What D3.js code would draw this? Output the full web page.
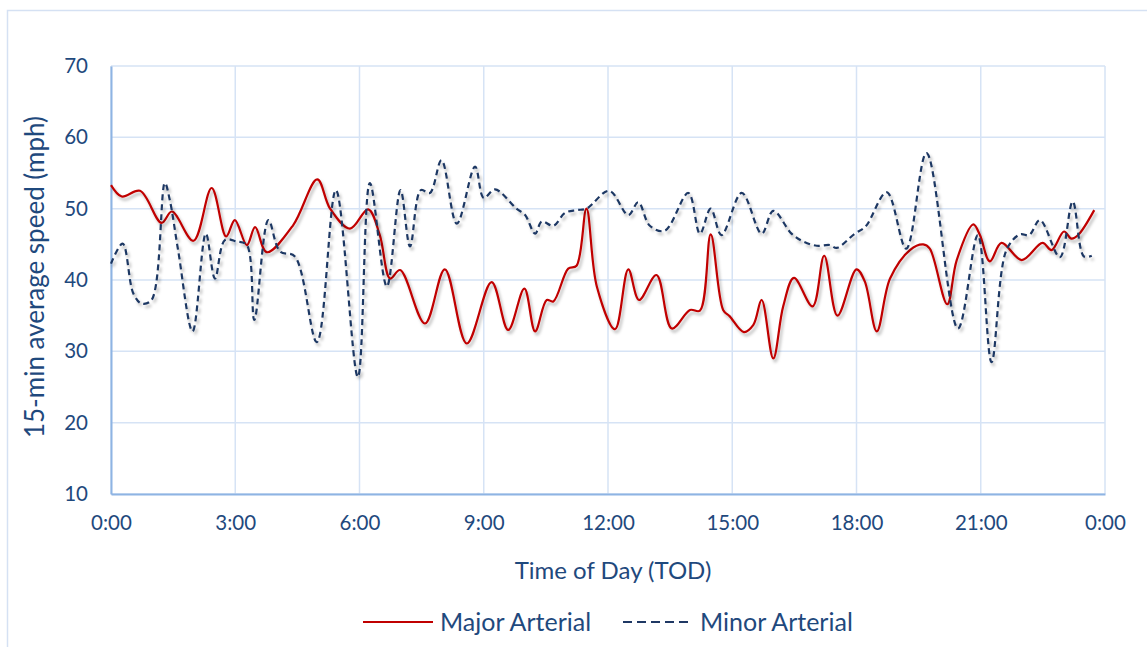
<!DOCTYPE html>
<html>
<head>
<meta charset="utf-8">
<script src="https://cdn.jsdelivr.net/npm/d3@7"></script>
<style>
  body { margin: 0; background: #fff; }
  svg { display: block; font-family: Lato, "Open Sans", sans-serif; }
</style>
</head>
<body>
<div id="chart"></div>
<script>
// time of day in hours, 15-min average speed in mph
const majorArterial = [
  [0, 53.3], [0.26, 51.7], [0.70, 52.5], [1.22, 48.0], [1.47, 49.6], [1.99, 45.5],
  [2.43, 52.9], [2.78, 46.1], [2.99, 48.4], [3.28, 44.9], [3.48, 47.4], [3.76, 43.9],
  [4.40, 47.7], [4.98, 54.1], [5.29, 50.0], [5.77, 47.2], [6.21, 49.9], [6.49, 46.3],
  [6.74, 40.2], [6.98, 41.4], [7.58, 33.9], [8.06, 41.5], [8.59, 31.1], [9.19, 39.7],
  [9.59, 33.0], [9.98, 38.8], [10.24, 32.8], [10.52, 37.2], [10.68, 37.0], [11.04, 41.6],
  [11.24, 42.0], [11.48, 50.0], [11.73, 39.1], [12.17, 33.1], [12.49, 41.5], [12.75, 37.2],
  [13.17, 40.7], [13.54, 33.2], [13.98, 35.8], [14.22, 35.7], [14.48, 46.4], [14.78, 35.8],
  [14.94, 34.9], [15.28, 32.7], [15.51, 33.7], [15.71, 37.2], [15.99, 29.0], [16.23, 36.3],
  [16.49, 40.3], [16.94, 36.3], [17.22, 43.4], [17.54, 35.0], [18.00, 41.5], [18.20, 39.8],
  [18.49, 32.8], [18.81, 40.2], [19.29, 44.2], [19.61, 45.0], [19.77, 44.4], [20.19, 36.6],
  [20.42, 42.8], [20.82, 47.8], [20.98, 46.3], [21.22, 42.6], [21.50, 45.2], [21.99, 42.8],
  [22.49, 45.2], [22.71, 44.2], [23.01, 46.8], [23.19, 45.8], [23.35, 46.3], [23.74, 49.8]
];

const minorArterial = [
  [0, 42.3], [0.28, 45.1], [0.54, 38.1], [0.74, 36.7], [0.98, 37.2], [1.30, 53.6],
  [1.42, 51.2], [1.62, 44.2], [1.97, 32.8], [2.29, 46.5], [2.51, 40.2], [2.75, 45.6],
  [3.03, 45.4], [3.28, 44.9], [3.46, 34.4], [3.80, 48.4], [4.08, 44.0], [4.44, 43.3],
  [4.97, 31.3], [5.43, 52.6], [5.96, 26.4], [6.25, 53.6], [6.66, 39.1], [6.99, 52.6],
  [7.22, 44.7], [7.48, 52.6], [7.70, 52.2], [7.98, 56.8], [8.35, 47.9], [8.79, 55.9],
  [9.00, 51.5], [9.27, 52.7], [9.79, 50.0], [10.00, 49.1], [10.24, 46.5], [10.40, 48.2],
  [10.68, 47.6], [10.96, 49.4], [11.24, 49.8], [11.48, 50.0], [12.03, 52.5], [12.49, 49.1],
  [12.73, 50.9], [13.01, 47.6], [13.37, 46.9], [13.94, 52.2], [14.22, 46.5], [14.48, 50.0],
  [14.74, 46.3], [15.23, 52.2], [15.71, 46.5], [15.99, 49.7], [16.43, 46.5], [16.71, 45.4],
  [17.04, 44.8], [17.36, 44.9], [17.52, 44.5], [17.96, 46.5], [18.22, 47.5], [18.73, 52.3],
  [19.20, 44.4], [19.69, 57.8], [20.45, 33.2], [20.93, 46.3], [21.26, 28.5], [21.62, 44.2],
  [21.95, 46.4], [22.17, 46.3], [22.43, 48.4], [22.91, 43.2], [23.22, 51.0], [23.49, 43.3],
  [23.68, 43.4]
];

const xTicks = [0, 3, 6, 9, 12, 15, 18, 21, 24];
const yTicks = [10, 20, 30, 40, 50, 60, 70];
const seriesNames = ["Major Arterial", "Minor Arterial"];

const width = 1147, height = 647;
const margin = { top: 66, right: 42, bottom: 153, left: 111 };
const textColor = "#1f497d";

const svg = d3.select("#chart").append("svg")
    .attr("width", width)
    .attr("height", height);

// soft shadow under the lines
const filter = svg.append("defs").append("filter")
    .attr("id", "shadow")
    .attr("x", "-5%").attr("y", "-10%")
    .attr("width", "110%").attr("height", "120%");
filter.append("feDropShadow")
    .attr("dx", 2).attr("dy", 3)
    .attr("stdDeviation", 1.8)
    .attr("flood-color", "#000")
    .attr("flood-opacity", 0.28);

// chart border
svg.append("rect")
    .attr("x", 7.5).attr("y", 10.5)
    .attr("width", width).attr("height", height)
    .attr("fill", "none")
    .attr("stroke", "#d5e1f3")
    .attr("stroke-width", 1.5);

const x = d3.scaleLinear()
    .domain([0, 24])
    .range([margin.left, width - margin.right]);
const y = d3.scaleLinear()
    .domain([10, 70])
    .range([height - margin.bottom, margin.top]);

// grid
svg.append("g")
    .attr("stroke", "#d6e3f5")
    .attr("stroke-width", 1.5)
  .selectAll("line.h")
  .data(yTicks)
  .join("line")
    .attr("x1", x(0)).attr("x2", x(24))
    .attr("y1", d => y(d)).attr("y2", d => y(d));
svg.append("g")
    .attr("stroke", "#d6e3f5")
    .attr("stroke-width", 1.5)
  .selectAll("line.v")
  .data(xTicks)
  .join("line")
    .attr("x1", d => x(d)).attr("x2", d => x(d))
    .attr("y1", y(10)).attr("y2", y(70));

// axes
const fmtTime = d => `${d % 24}:00`;
const xAxis = svg.append("g")
    .attr("transform", `translate(0,${y(10)})`)
    .call(d3.axisBottom(x).tickValues(xTicks).tickFormat(fmtTime).tickSize(0).tickPadding(21));
const yAxis = svg.append("g")
    .attr("transform", `translate(${x(0)},0)`)
    .call(d3.axisLeft(y).tickValues(yTicks).tickSize(0).tickPadding(23));
[xAxis, yAxis].forEach(g => {
  g.select(".domain").attr("stroke", "#8eb4e3").attr("stroke-width", 2);
  g.selectAll("text")
    .attr("fill", textColor)
    .attr("font-size", 20.5)
    .attr("font-family", "Lato, 'Open Sans', sans-serif");
});

// lines
const line = d3.line()
    .x(d => x(d[0]))
    .y(d => y(d[1]))
    .curve(d3.curveCatmullRom.alpha(0.5));

svg.append("path")
    .datum(majorArterial)
    .attr("fill", "none")
    .attr("stroke", "#c00000")
    .attr("stroke-width", 2.2)
    .attr("filter", "url(#shadow)")
    .attr("d", line);

svg.append("path")
    .datum(minorArterial)
    .attr("fill", "none")
    .attr("stroke", "#1f3864")
    .attr("stroke-width", 2.2)
    .attr("stroke-dasharray", "6,4")
    .attr("filter", "url(#shadow)")
    .attr("d", line);

// axis titles
svg.append("text")
    .attr("x", 613).attr("y", 579)
    .attr("text-anchor", "middle")
    .attr("fill", textColor)
    .attr("font-size", 24)
    .text("Time of Day (TOD)");

svg.append("text")
    .attr("transform", "translate(44,277) rotate(-90)")
    .attr("text-anchor", "middle")
    .attr("fill", textColor)
    .attr("font-size", 26)
    .text("15-min average speed (mph)");

// legend
const legend = svg.append("g").attr("transform", "translate(363,622)");
legend.append("line")
    .attr("x1", 0).attr("x2", 70)
    .attr("stroke", "#c00000").attr("stroke-width", 2.2);
legend.append("text")
    .attr("x", 77).attr("y", 9)
    .attr("fill", textColor).attr("font-size", 25)
    .text(seriesNames[0]);
legend.append("line")
    .attr("x1", 260).attr("x2", 328)
    .attr("stroke", "#1f3864").attr("stroke-width", 2.2)
    .attr("stroke-dasharray", "9,5");
legend.append("text")
    .attr("x", 337).attr("y", 9)
    .attr("fill", textColor).attr("font-size", 25)
    .text(seriesNames[1]);
</script>
</body>
</html>
